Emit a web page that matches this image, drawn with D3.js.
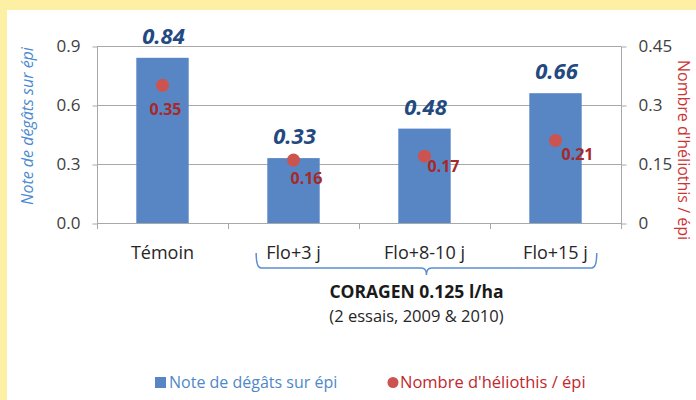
<!DOCTYPE html>
<html><head><meta charset="utf-8">
<script src="https://cdn.jsdelivr.net/npm/d3@7"></script>
<style>body{margin:0;background:#fdf0a4;}svg{display:block;}text{font-family:"Open Sans",sans-serif;}</style>
</head><body>
<svg id="c" width="696" height="400"></svg>
<script>
const categories = ["Témoin", "Flo+3 j", "Flo+8-10 j", "Flo+15 j"];
const damageValues = [0.84, 0.33, 0.48, 0.66];
const heliothisValues = [0.35, 0.16, 0.17, 0.21];
const leftTicks = [0, 0.3, 0.6, 0.9];
const leftTickLabels = ["0.0", "0.3", "0.6", "0.9"];
const rightTicks = [0, 0.15, 0.3, 0.45];
const rightTickLabels = ["0", "0.15", "0.3", "0.45"];
const seriesNames = ["Note de dégâts sur épi", "Nombre d'héliothis / épi"];
const groupTitle = "CORAGEN 0.125 l/ha";
const groupSubtitle = "(2 essais, 2009 & 2010)";
// label offsets (style) for the dot labels
const dotLabelOffsets = [[-13, 30], [-3, 24], [3, 16], [6, 20]];

const svg = d3.select("#c");
svg.append("rect").attr("x", 7).attr("y", 10).attr("width", 689).attr("height", 390).attr("fill", "#ffffff");

const L = 97, R = 621, T = 46, B = 223;
const x = d3.scaleBand().domain(categories).range([L, R]).padding(0);
const yL = d3.scaleLinear().domain([0, 0.9]).range([B, T]);
const yR = d3.scaleLinear().domain([0, 0.45]).range([B, T]);
const gridColor = "#a8a8a8";

// gridlines
svg.append("g").selectAll("line").data(leftTicks.filter(d => d > 0)).join("line")
  .attr("x1", L).attr("x2", R).attr("y1", d => yL(d) + 0.5).attr("y2", d => yL(d) + 0.5)
  .attr("stroke", gridColor).attr("stroke-width", 1);

// left axis
const gl = svg.append("g").attr("transform", `translate(${L + 0.5},0)`)
  .call(d3.axisLeft(yL).tickValues(leftTicks).tickFormat((d, i) => leftTickLabels[i]).tickSize(5).tickPadding(12));
// right axis
const gr = svg.append("g").attr("transform", `translate(${R + 0.5},0)`)
  .call(d3.axisRight(yR).tickValues(rightTicks).tickFormat((d, i) => rightTickLabels[i]).tickSize(5).tickPadding(12));
[gl, gr].forEach(g => {
  g.select(".domain").attr("stroke", gridColor).attr("d", `M0,${T + 0.5}V${B + 0.5}`);
  g.selectAll(".tick line").attr("stroke", gridColor).attr("transform", "translate(0,0.5)");
  g.selectAll(".tick text").attr("fill", "#404040").style("font-size", "17px").style("font-family", '"Open Sans",sans-serif');
});

// bottom axis line and boundary ticks
svg.append("line").attr("x1", L).attr("x2", R).attr("y1", B + 0.5).attr("y2", B + 0.5).attr("stroke", gridColor);
const bounds = categories.map(c => x(c)).concat([x.range()[1]]);
svg.append("g").selectAll("line").data(bounds).join("line")
  .attr("x1", d => Math.round(d) + 0.5).attr("x2", d => Math.round(d) + 0.5)
  .attr("y1", B).attr("y2", B + 6).attr("stroke", gridColor);

// category labels
svg.append("g").selectAll("text").data(categories).join("text")
  .attr("x", d => x(d) + x.bandwidth() / 2).attr("y", 259).attr("text-anchor", "middle")
  .attr("fill", "#262626").style("font-size", "18px").text(d => d);

// bars
const bw = x.bandwidth() * 0.4;
svg.append("g").selectAll("rect").data(damageValues).join("rect")
  .attr("x", (d, i) => x(categories[i]) + (x.bandwidth() - bw) / 2)
  .attr("width", bw).attr("y", d => yL(d)).attr("height", d => B - yL(d))
  .attr("fill", "#5886c5");

// bar value labels
svg.append("g").selectAll("text").data(damageValues).join("text")
  .attr("x", (d, i) => x(categories[i]) + x.bandwidth() / 2 + 1)
  .attr("y", d => yL(d) - 14).attr("text-anchor", "middle")
  .attr("fill", "#23497f").style("font-size", "22px").style("font-weight", "bold").style("font-style", "italic")
  .text(d => d.toFixed(2));

// dots
svg.append("g").selectAll("circle").data(heliothisValues).join("circle")
  .attr("cx", (d, i) => x(categories[i]) + x.bandwidth() / 2)
  .attr("cy", d => yR(d)).attr("r", 6.5).attr("fill", "#cc5450");

svg.append("g").selectAll("text").data(heliothisValues).join("text")
  .attr("x", (d, i) => x(categories[i]) + x.bandwidth() / 2 + dotLabelOffsets[i][0])
  .attr("y", (d, i) => yR(d) + dotLabelOffsets[i][1])
  .attr("fill", "#a82828").style("font-size", "16px").style("font-weight", "bold")
  .text(d => d.toFixed(2));

// axis titles
svg.append("text").attr("transform", `translate(33,126) rotate(-90)`).attr("text-anchor", "middle")
  .attr("fill", "#4a8ad0").style("font-size", "16px").style("font-style", "italic").text(seriesNames[0]);
svg.append("text").attr("transform", `translate(678,150) rotate(90)`).attr("text-anchor", "middle")
  .attr("fill", "#cc3333").style("font-size", "16px").text(seriesNames[1]);

// brace
const bl = x(categories[1]) + x.bandwidth() * 0.215;
const br = x(categories[3]) + x.bandwidth() * 0.815;
const bm = (bl + br) / 2;
const by0 = 253, by1 = 268, by2 = 275;
const p = d3.path();
p.moveTo(bl, by0);
p.quadraticCurveTo(bl, by1, bl + 5, by1);
p.lineTo(bm - 5, by1);
p.quadraticCurveTo(bm, by1, bm, by2);
p.quadraticCurveTo(bm, by1, bm + 5, by1);
p.lineTo(br - 5, by1);
p.quadraticCurveTo(br, by1, br, by0);
svg.append("path").attr("d", p.toString()).attr("fill", "none").attr("stroke", "#5b8fd0").attr("stroke-width", 1.5);

svg.append("text").attr("x", bm - 10).attr("y", 298).attr("text-anchor", "middle")
  .attr("fill", "#1a1a1a").style("font-size", "17.5px").style("font-weight", "bold").text(groupTitle);
svg.append("text").attr("x", bm - 10).attr("y", 322).attr("text-anchor", "middle")
  .attr("fill", "#262626").style("font-size", "16.5px").text(groupSubtitle);

// legend
const lg = svg.append("g");
lg.append("rect").attr("x", 155).attr("y", 377).attr("width", 11).attr("height", 11).attr("fill", "#5886c5");
lg.append("text").attr("x", 169).attr("y", 388).attr("fill", "#4f88c8").style("font-size", "16px").text(seriesNames[0]);
lg.append("circle").attr("cx", 393).attr("cy", 382.5).attr("r", 5.5).attr("fill", "#cc5450");
lg.append("text").attr("x", 400).attr("y", 388).attr("fill", "#c0282d").style("font-size", "16.5px").text(seriesNames[1]);
</script>
</body></html>
